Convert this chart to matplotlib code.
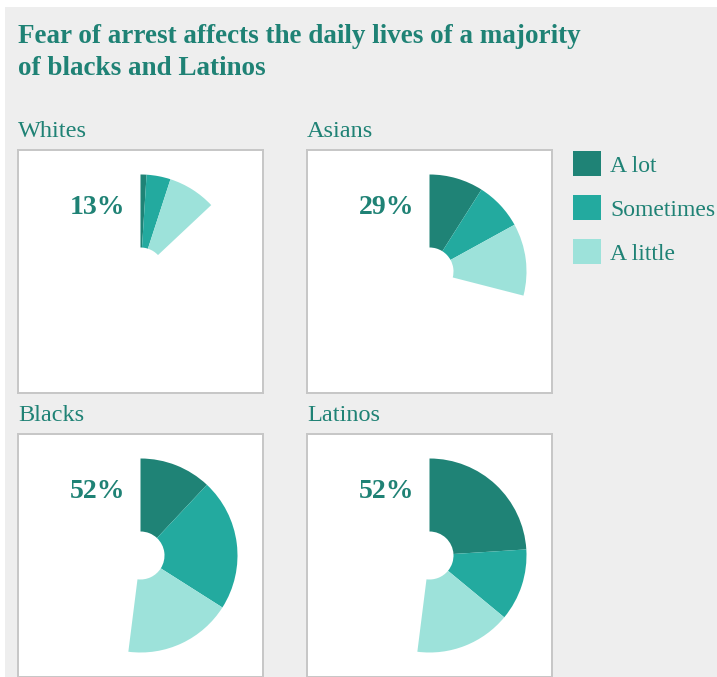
import matplotlib.pyplot as plt
from matplotlib.patches import Rectangle, Patch

# share of each group whose daily life is affected by fear of arrest
groups = ['Whites', 'Asians', 'Blacks', 'Latinos']
a_lot = [1, 9, 12, 24]
sometimes = [4, 8, 22, 12]
a_little = [8, 12, 18, 16]
levels = ['A lot', 'Sometimes', 'A little']

title = 'Fear of arrest affects the daily lives of a majority\nof blacks and Latinos'

teal_text = '#1f8275'
colors = ['#1f8376', '#23aa9f', '#9de2da']
bg = '#eeeeee'

W, H = 717, 677
plt.rcParams['font.family'] = ['Liberation Serif', 'DejaVu Serif']

fig = plt.figure(figsize=(W / 100, H / 100), dpi=100, facecolor='white')


def fx(x):
    return x / W


def fy(y):
    return 1 - y / H


# grey backdrop, leaving a thin white margin on the top and left
fig.patches.append(Rectangle((fx(5), 0), 1 - fx(5), fy(7), transform=fig.transFigure,
                             facecolor=bg, edgecolor='none', zorder=-10))

for i, line in enumerate(title.split('\n')):
    fig.text(fx(18), fy(43 + 32 * i), line, fontsize=19.5, fontweight='bold',
             color=teal_text, va='baseline', ha='left')

# panel boxes (left, top) in pixels
boxes = [(18, 150), (307, 150), (18, 434), (307, 434)]
box_w, box_h = 245, 243
r_out, r_in = 97, 24

for k, name in enumerate(groups):
    left, top = boxes[k]
    ax = fig.add_axes([fx(left), fy(top + box_h), box_w / W, box_h / H])
    ax.set_facecolor('white')
    for s in ax.spines.values():
        s.set_color('#c6c6c6')
        s.set_linewidth(1.4)
    vals = [a_lot[k], sometimes[k], a_little[k]]
    rest = 100 - sum(vals)
    ax.pie(vals + [rest], colors=colors + ['none'], startangle=90, counterclock=False,
           radius=1, wedgeprops=dict(width=(r_out - r_in) / r_out, linewidth=0))
    ax.set_aspect('auto')
    ax.set_xlim(-box_w / 2 / r_out, box_w / 2 / r_out)
    ax.set_ylim(-box_h / 2 / r_out, box_h / 2 / r_out)
    ax.set_xticks([])
    ax.set_yticks([])
    ax.set_frame_on(True)

    ax.text(0.438, 0.764, f'{sum(vals)}%', transform=ax.transAxes, ha='right', va='center',
            fontsize=20, fontweight='bold', color=teal_text)
    fig.text(fx(left), fy(top - 13), name, fontsize=17.5, color=teal_text,
             ha='left', va='baseline')

handles = [Patch(facecolor=c, edgecolor='none') for c in colors]
fs = 17
fig.legend(handles, levels, loc='upper left', bbox_to_anchor=(fx(573), fy(151)),
           frameon=False, fontsize=fs, labelcolor=teal_text, borderpad=0, borderaxespad=0,
           handlelength=28 / (fs * 100 / 72), handleheight=30 / (fs * 100 / 72),
           handletextpad=0.38, labelspacing=0.78)

fig.savefig('out.png', dpi=100, facecolor='white')
